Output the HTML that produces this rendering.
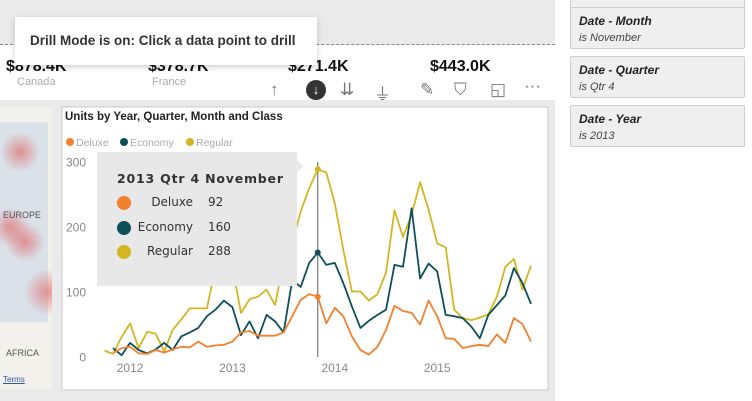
<!DOCTYPE html>
<html><head><meta charset="utf-8"><style>
body{margin:0;width:752px;height:401px;overflow:hidden;background:#eaeaea;font-family:"Liberation Sans",sans-serif;position:relative}
.abs{position:absolute}
.card{position:absolute;left:570px;width:173px;height:40px;background:#efefef;border:1px solid #cfcfcf;border-radius:2px}
.card b{position:absolute;left:8px;top:6px;font-size:12px;font-style:italic;color:#222}
.card i{position:absolute;left:8px;top:24px;font-size:11px;color:#444}
.kv{position:absolute;top:58px;font-size:16px;font-weight:bold;color:#111}
.kl{position:absolute;top:76px;font-size:11px;color:#aaa}
.blob{position:absolute;border-radius:50%;background:radial-gradient(circle,rgba(225,90,90,.6) 0%,rgba(225,90,90,0) 70%)}
</style></head><body>
<div class="abs" style="left:0;top:0;width:555px;height:401px;background:#eaeaea"></div>
<div class="abs" style="left:0;top:45px;width:555px;height:55px;background:#fff"></div>
<div class="abs" style="left:0;top:44px;width:555px;border-top:1px dashed #888"></div>
<div class="kv" style="left:6px">$878.4K</div><div class="kl" style="left:17px">Canada</div>
<div class="kv" style="left:148px">$378.7K</div><div class="kl" style="left:152px">France</div>
<div class="kv" style="left:288px">$271.4K</div>
<div class="kv" style="left:430px">$443.0K</div>
<div class="abs" style="left:15px;top:17px;width:302px;height:48px;background:#fff;box-shadow:0 2px 6px rgba(0,0,0,.2);font-size:13.5px;font-weight:bold;color:#333;line-height:48px;text-indent:15px">Drill Mode is on: Click a data point to drill</div>
<div class="abs" style="left:262px;top:80px;width:290px;height:24px;color:#777;font-size:17px">
<span class="abs" style="left:8px;top:0">↑</span>
<span class="abs" style="left:44px;top:0;width:20px;height:20px;border-radius:10px;background:#333;color:#fff;text-align:center;font-size:13px;line-height:20px">↓</span>
<span class="abs" style="left:78px;top:0">⇊</span>
<span class="abs" style="left:112px;top:0">⏚</span>
<span class="abs" style="left:158px;top:0">✎</span>
<span class="abs" style="left:192px;top:0">⛉</span>
<span class="abs" style="left:228px;top:0">◱</span>
<span class="abs" style="left:262px;top:-4px">···</span>
</div>
<div class="abs" style="left:0;top:107px;width:52px;height:283px;background:#f3f1ec;overflow:hidden">
<div class="abs" style="left:0;top:15px;width:48px;height:200px;background:#d3dde9;opacity:.8"></div>
<div class="blob" style="left:0;top:25px;width:40px;height:40px"></div>
<div class="blob" style="left:-10px;top:100px;width:40px;height:40px"></div>
<div class="blob" style="left:5px;top:115px;width:40px;height:40px"></div>
<div class="blob" style="left:25px;top:160px;width:45px;height:50px"></div>
<div class="abs" style="left:3px;top:103px;font-size:9px;color:#555">EUROPE</div>
<div class="abs" style="left:6px;top:241px;font-size:9px;color:#555">AFRICA</div>
<div class="abs" style="left:3px;top:268px;font-size:8px;color:#3355aa;text-decoration:underline">Terms</div>
</div>
<div class="abs" style="left:555px;top:0;width:197px;height:401px;background:#fff"></div>
<div class="card" style="top:-28px"></div>
<div class="card" style="top:7px"><b>Date - Month</b><i>is November</i></div>
<div class="card" style="top:56px"><b>Date - Quarter</b><i>is Qtr 4</i></div>
<div class="card" style="top:105px"><b>Date - Year</b><i>is 2013</i></div>
<svg class="abs" style="left:0;top:0" width="752" height="401" id="chart">
<rect x="62" y="107" width="486" height="283" fill="#fff" stroke="#c8c8c8"/>
<text x="65" y="120" font-size="11.5" font-weight="bold" fill="#222">Units by Year, Quarter, Month and Class</text>
<g font-size="10.5" fill="#aaa">
<circle cx="70" cy="142" r="4" fill="#f2812f"/><text x="76" y="146">Deluxe</text>
<circle cx="124" cy="142" r="4" fill="#0f4f5a"/><text x="130" y="146">Economy</text>
<circle cx="190" cy="142" r="4" fill="#d4b522"/><text x="196" y="146">Regular</text>
</g>
<g id="axes"></g><g id="lines"></g>
</svg>
<script>
const yTicks=[0,100,200,300];
const xYears=['2012','2013','2014','2015'];
const regular=[9,4,30,51,13,38,35,8,41,57,74,74,74,136,124,138,67,88,92,103,79,146,174,223,259,288,283,236,164,100,100,86,96,129,225,184,218,268,226,174,168,72,59,56,60,65,92,138,150,103,140];
const economy=[null,13,2,21,10,5,11,21,10,31,37,44,62,72,86,76,33,54,28,64,54,37,117,107,144,160,141,144,113,77,44,55,64,72,141,138,228,120,143,131,64,62,59,46,28,64,79,94,136,113,81];
const deluxe=[null,5,13,15,5,4,10,6,11,15,14,23,15,17,18,23,37,39,32,32,32,37,62,87,96,92,51,75,62,31,10,3,15,41,78,70,67,49,86,62,28,27,13,16,18,16,34,21,59,50,23];
const selIndex=25;
const NS='http://www.w3.org/2000/svg';
const xs=i=>104.5+8.53*i;
const ys=v=>356.5-v*0.65;
const ax=document.getElementById('axes'),ln=document.getElementById('lines');
function mk(tag,attrs,parent){const e=document.createElementNS(NS,tag);for(const k in attrs)e.setAttribute(k,attrs[k]);parent.appendChild(e);return e;}
yTicks.forEach(v=>{const t=mk('text',{x:86,y:ys(v)+5,'text-anchor':'end','font-size':'12',fill:'#888'},ax);t.textContent=v;

});
xYears.forEach((y,k)=>{const t=mk('text',{x:xs(3+12*k),y:372,'text-anchor':'middle','font-size':'12',fill:'#888'},ax);t.textContent=y;

});
const series=[['regular',regular,'#d4b522'],['economy',economy,'#0f4f5a'],['deluxe',deluxe,'#f2812f']];
const vl=mk('line',{x1:xs(selIndex),x2:xs(selIndex),y1:162,y2:357,stroke:'#777','stroke-width':1.2},ln);


series.forEach(([n,d,c])=>{let p='';d.forEach((v,i)=>{if(v==null)return;p+=(p?'L':'M')+xs(i).toFixed(1)+','+ys(v).toFixed(1);});
const e=mk('path',{d:p,fill:'none',stroke:c,'stroke-width':1.8,'stroke-linejoin':'round'},ln);


const dt=mk('circle',{cx:xs(selIndex),cy:ys(d[selIndex]),r:3,fill:c},ln);

});
</script>
<div class="abs" style="left:97px;top:152px;width:200px;height:134px;background:#e8e8e8;font-family:'DejaVu Sans',sans-serif;color:#333">
<div class="abs" style="left:198px;top:6px;width:0;height:0;border-top:8px solid transparent;border-bottom:8px solid transparent;border-left:8px solid #e8e8e8"></div>
<div class="abs" style="left:20px;top:19px;font-size:12.5px;font-weight:bold;letter-spacing:.8px">2013 Qtr 4 November</div>
<div class="abs" style="left:20px;top:44px;width:14px;height:14px;border-radius:50%;background:#f2812f"></div>
<div class="abs" style="left:30px;top:43px;width:66px;text-align:right;font-size:12px">Deluxe</div><div class="abs" style="left:111px;top:43px;font-size:12px">92</div>
<div class="abs" style="left:20px;top:69px;width:14px;height:14px;border-radius:50%;background:#0f4f5a"></div>
<div class="abs" style="left:30px;top:68px;width:66px;text-align:right;font-size:12px">Economy</div><div class="abs" style="left:111px;top:68px;font-size:12px">160</div>
<div class="abs" style="left:20px;top:93px;width:14px;height:14px;border-radius:50%;background:#d4b522"></div>
<div class="abs" style="left:30px;top:92px;width:66px;text-align:right;font-size:12px">Regular</div><div class="abs" style="left:111px;top:92px;font-size:12px">288</div>
</div>
</body></html>
